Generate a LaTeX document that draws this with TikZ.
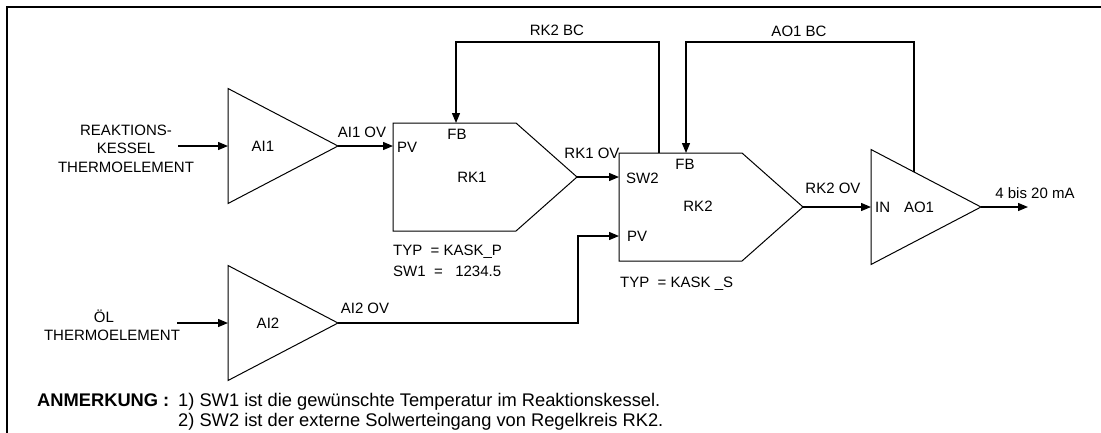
\documentclass[tikz,border=0pt]{standalone}
\usepackage{fontspec}
\setmainfont{Liberation Sans}
\usepackage{tikz}
\usetikzlibrary{
  arrows.meta,
  positioning,
  calc
}
\tikzset{
  blockline/.style={draw, line width=1pt, line join=miter},
  arr/.style={-{Triangle[length=10pt, width=8pt]}, line width=1.3pt},
  lbl/.style={inner sep=0pt, font=\fontsize{15}{18.5}\selectfont},
  notetext/.style={inner sep=0pt, anchor=base west, font=\fontsize{18.3}{20}\selectfont},
}
% amplifier: name, left x, mid y
\newcommand{\ampblock}[3]{%
  \draw[blockline] (#2,#3-57.5) -- (#2+110,#3) -- (#2,#3+57.5) -- cycle;
  \coordinate (#1-in) at (#2,#3);
  \coordinate (#1-out) at (#2+110,#3);
}
% controller: name, left x, top y
\newcommand{\ctrlblock}[3]{%
  \draw[blockline] (#2,#3) -- (#2+123,#3) -- (#2+184,#3+54)
    -- (#2+123,#3+108) -- (#2,#3+108) -- cycle;
  \coordinate (#1-out) at (#2+184,#3+54);
}

\begin{document}
\begin{tikzpicture}[x=1pt, y=-1pt]
  \useasboundingbox (0,0) rectangle (1101,432);
  \clip (0,0) rectangle (1101,432);
  % frame, cut by the page edge
  \draw[line width=1.3pt] (7,440) -- (7,7) -- (1110,7);

  % function blocks
  \ampblock{AI1}{228}{146}
  \ampblock{AI2}{228}{323}
  \ampblock{AO1}{871}{207}
  \ctrlblock{RK1}{393}{123}
  \ctrlblock{RK2}{619}{153}

  % block names
  \node[lbl] (ai1) at (263,146) {AI1};
  \node[lbl] (ai2) at (268,323) {AI2};
  \node[lbl] (ao1) at (919,207) {AO1};
  \node[lbl] (rk1) at (472,177) {RK1};
  \node[lbl] (rk2) at (698,206) {RK2};

  % ports
  \node[lbl, anchor=west] (rk1pv) at (397,147) {PV};
  \node[lbl] (rk1fb) at (457,134) {FB};
  \node[lbl, anchor=west] (rk2sw) at (626,178) {SW2};
  \node[lbl, anchor=west] (rk2pv) at (627,236) {PV};
  \node[lbl] (rk2fb) at (685,164) {FB};
  \node[lbl, anchor=west] (ao1in) at (875,207) {IN};

  % connection points
  \coordinate (src1) at (178,146);
  \coordinate (src2) at (177,323);
  \coordinate (sink) at (1028,207);
  \coordinate (RK1-pv) at (393,146);
  \coordinate (RK1-fb) at (456,123);
  \coordinate (RK2-sw) at (619,177);
  \coordinate (RK2-pv) at (619,236);
  \coordinate (RK2-fb) at (686,153);
  \coordinate (RK2-bc) at (659,153);
  \coordinate (AO1-bc) at (914,172);
  \coordinate (bc1) at (557,42);
  \coordinate (bc2) at (799,42);
  \coordinate (bend) at (578,236);

  % signal lines
  \draw[arr] (src1) -- (AI1-in);
  \draw[arr] (AI1-out) -- (RK1-pv);
  \draw[arr] (RK1-out) -- (RK2-sw);
  \draw[arr] (src2) -- (AI2-in);
  \draw[arr] (AI2-out) -| (bend) -- (RK2-pv);
  \draw[arr] (RK2-out) -- (AO1-in);
  \draw[arr] (AO1-out) -- (sink);
  % back calculation
  \draw[arr] (RK2-bc) |- (bc1) -| (RK1-fb);
  \draw[arr] (AO1-bc) |- (bc2) -| (RK2-fb);

  % signal names
  \node[lbl] (ai1ov) at (362,132) {AI1 OV};
  \node[lbl] (rk1ov) at (592,153) {RK1 OV};
  \node[lbl] (rk2ov) at (833,188) {RK2 OV};
  \node[lbl] (ai2ov) at (365,308) {AI2 OV};
  \node[lbl] (ma) at (1035,193) {4 bis 20 mA};
  \node[lbl] (rk2bc) at (557,30) {RK2 BC};
  \node[lbl] (ao1bc) at (799,31) {AO1 BC};

  % sensors
  \node[lbl, align=center] (tc1) at (126,148.5) {REAKTIONS-\\KESSEL\\THERMOELEMENT};
  \node[lbl, anchor=base] (tc2a) at (104,322) {ÖL};
  \node[lbl, anchor=base] (tc2b) at (112,340) {THERMOELEMENT};

  % parameters
  \node[lbl, anchor=base west] (par1) at (393,255.5) {TYP\ \ = KASK\_P};
  \node[lbl, anchor=base west] (par2) at (393,276.5) {SW1\ \ =\ \ \ 1234.5};
  \node[lbl, anchor=base west] (par3) at (620,287.5) {TYP\ \ = KASK \_S};

  % remarks
  \node[notetext] (anm) at (37,406.5) {\bfseries ANMERKUNG :};
  \node[notetext] (rem1) at (178,406.5) {1) SW1 ist die gewünschte Temperatur im Reaktionskessel.};
  \node[notetext] (rem2) at (178,426.5) {2) SW2 ist der externe Solwerteingang von Regelkreis RK2.};
\end{tikzpicture}
\end{document}
